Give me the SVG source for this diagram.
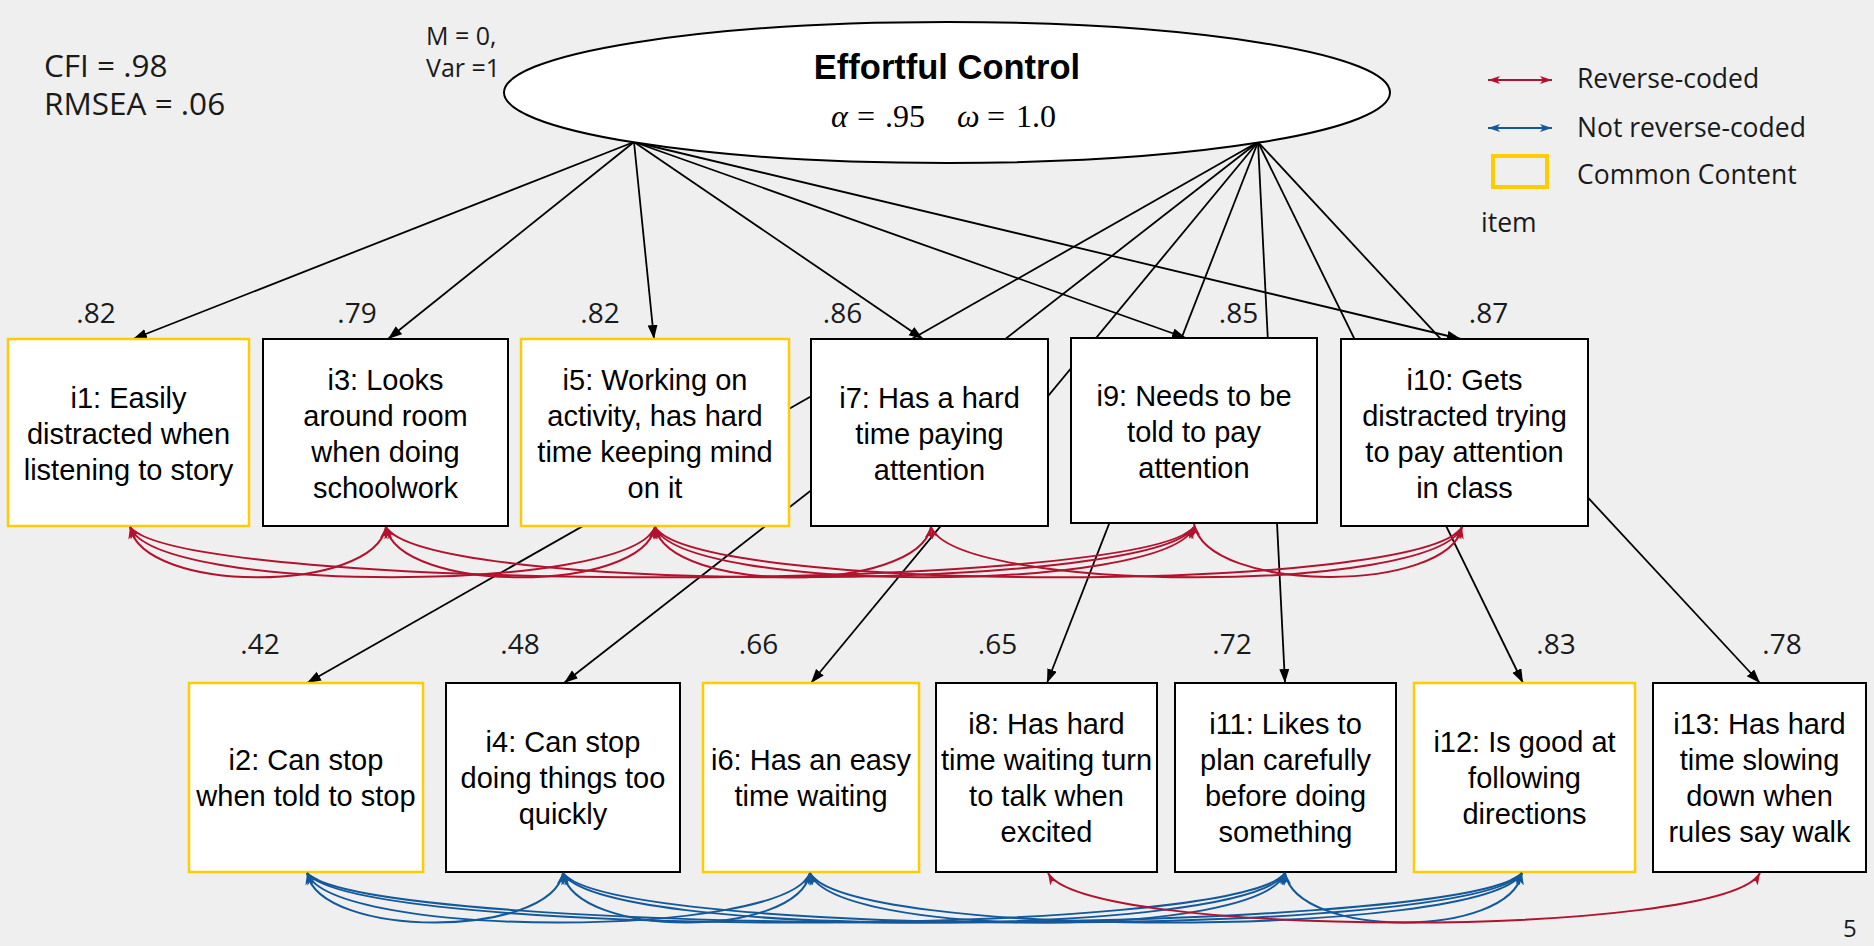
<svg xmlns="http://www.w3.org/2000/svg" width="1874" height="946" viewBox="0 0 1874 946">
<defs>
<style>
.bg{fill:#efefef}
.box{fill:#fff;stroke:#000;stroke-width:2}
.box.cc{stroke:#ffcc00;stroke-width:2.5}
.bt{font-family:"Liberation Sans",Arial,sans-serif;font-size:29px;fill:#000;text-anchor:middle}
.lab{font-family:"Open Sans","Noto Sans",sans-serif;font-size:28px;fill:#1a1a1a;text-anchor:middle}
.os{font-family:"Open Sans","Noto Sans",sans-serif;fill:#1a1a1a}
.ld{stroke:#000;stroke-width:1.8;fill:none;marker-end:url(#ah)}
.rc{stroke:#b3122e;stroke-width:2;fill:none;marker-start:url(#ar);marker-end:url(#ar)}
.nc{stroke:#13589a;stroke-width:2;fill:none;marker-start:url(#ab);marker-end:url(#ab)}
</style>
<marker id="ah" markerUnits="userSpaceOnUse" markerWidth="16" markerHeight="12" refX="14" refY="5" orient="auto"><path d="M0,0 L14,5 L0,10 z" fill="#000"/></marker>
<marker id="ar" markerUnits="userSpaceOnUse" markerWidth="14" markerHeight="10" refX="12" refY="4" orient="auto-start-reverse"><path d="M0,0 L12,4 L0,8 L3,4 z" fill="#b3122e"/></marker>
<marker id="ab" markerUnits="userSpaceOnUse" markerWidth="14" markerHeight="10" refX="12" refY="4" orient="auto-start-reverse"><path d="M0,0 L12,4 L0,8 L3,4 z" fill="#13589a"/></marker>
</defs>
<rect class="bg" x="0" y="0" width="1874" height="946"/>

<g id="loadings">
<line class="ld" x1="634" y1="142" x2="133" y2="339"/>
<line class="ld" x1="634" y1="142" x2="388" y2="339"/>
<line class="ld" x1="634" y1="142" x2="654" y2="339"/>
<line class="ld" x1="634" y1="142" x2="923" y2="339"/>
<line class="ld" x1="634" y1="142" x2="1186" y2="338"/>
<line class="ld" x1="634" y1="142" x2="1461" y2="339"/>
<line class="ld" x1="1258" y1="142" x2="307" y2="683"/>
<line class="ld" x1="1258" y1="142" x2="564" y2="683"/>
<line class="ld" x1="1258" y1="142" x2="811" y2="683"/>
<line class="ld" x1="1258" y1="142" x2="1047" y2="683"/>
<line class="ld" x1="1258" y1="142" x2="1285" y2="683"/>
<line class="ld" x1="1258" y1="142" x2="1523" y2="683"/>
<line class="ld" x1="1258" y1="142" x2="1760" y2="683"/>
</g>

<g id="effortful-control">
<ellipse cx="947" cy="92.5" rx="443" ry="70.5" fill="#fff" stroke="#000" stroke-width="2"/>
<text x="947" y="79" text-anchor="middle" font-family="'Liberation Sans',Arial,sans-serif" font-weight="bold" font-size="34.5">Effortful Control</text>
<text y="127" font-family="'Liberation Serif','Times New Roman',serif" font-size="32" fill="#000"><tspan x="831" font-style="italic">α</tspan><tspan x="857">=</tspan><tspan x="885">.95</tspan><tspan x="957" font-style="italic">ω</tspan><tspan x="987">=</tspan><tspan x="1016">1.0</tspan></text>
</g>

<g id="i1"><rect class="box cc" x="8" y="339" width="241" height="187"/><text class="bt"><tspan x="128.5" y="407.5">i1: Easily</tspan><tspan x="128.5" y="443.5">distracted when</tspan><tspan x="128.5" y="479.5">listening to story</tspan></text></g>
<g id="i3"><rect class="box" x="263" y="339" width="245" height="187"/><text class="bt"><tspan x="385.5" y="389.5">i3: Looks</tspan><tspan x="385.5" y="425.5">around room</tspan><tspan x="385.5" y="461.5">when doing</tspan><tspan x="385.5" y="497.5">schoolwork</tspan></text></g>
<g id="i5"><rect class="box cc" x="521" y="339" width="268" height="187"/><text class="bt"><tspan x="655" y="389.5">i5: Working on</tspan><tspan x="655" y="425.5">activity, has hard</tspan><tspan x="655" y="461.5">time keeping mind</tspan><tspan x="655" y="497.5">on it</tspan></text></g>
<g id="i7"><rect class="box" x="811" y="339" width="237" height="187"/><text class="bt"><tspan x="929.5" y="407.5">i7: Has a hard</tspan><tspan x="929.5" y="443.5">time paying</tspan><tspan x="929.5" y="479.5">attention</tspan></text></g>
<g id="i9"><rect class="box" x="1071" y="338" width="246" height="185"/><text class="bt"><tspan x="1194" y="405.5">i9: Needs to be</tspan><tspan x="1194" y="441.5">told to pay</tspan><tspan x="1194" y="477.5">attention</tspan></text></g>
<g id="i10"><rect class="box" x="1341" y="339" width="247" height="187"/><text class="bt"><tspan x="1464.5" y="389.5">i10: Gets</tspan><tspan x="1464.5" y="425.5">distracted trying</tspan><tspan x="1464.5" y="461.5">to pay attention</tspan><tspan x="1464.5" y="497.5">in class</tspan></text></g>

<g id="i2"><rect class="box cc" x="189" y="683" width="234" height="189"/><text class="bt"><tspan x="306" y="770">i2: Can stop</tspan><tspan x="306" y="806">when told to stop</tspan></text></g>
<g id="i4"><rect class="box" x="446" y="683" width="234" height="189"/><text class="bt"><tspan x="563" y="752">i4: Can stop</tspan><tspan x="563" y="788">doing things too</tspan><tspan x="563" y="824">quickly</tspan></text></g>
<g id="i6"><rect class="box cc" x="703" y="683" width="216" height="189"/><text class="bt"><tspan x="811" y="770">i6: Has an easy</tspan><tspan x="811" y="806">time waiting</tspan></text></g>
<g id="i8"><rect class="box" x="936" y="683" width="221" height="189"/><text class="bt"><tspan x="1046.5" y="734">i8: Has hard</tspan><tspan x="1046.5" y="770">time waiting turn</tspan><tspan x="1046.5" y="806">to talk when</tspan><tspan x="1046.5" y="842">excited</tspan></text></g>
<g id="i11"><rect class="box" x="1175" y="683" width="221" height="189"/><text class="bt"><tspan x="1285.5" y="734">i11: Likes to</tspan><tspan x="1285.5" y="770">plan carefully</tspan><tspan x="1285.5" y="806">before doing</tspan><tspan x="1285.5" y="842">something</tspan></text></g>
<g id="i12"><rect class="box cc" x="1414" y="683" width="221" height="189"/><text class="bt"><tspan x="1524.5" y="752">i12: Is good at</tspan><tspan x="1524.5" y="788">following</tspan><tspan x="1524.5" y="824">directions</tspan></text></g>
<g id="i13"><rect class="box" x="1653" y="683" width="213" height="189"/><text class="bt"><tspan x="1759.5" y="734">i13: Has hard</tspan><tspan x="1759.5" y="770">time slowing</tspan><tspan x="1759.5" y="806">down when</tspan><tspan x="1759.5" y="842">rules say walk</tspan></text></g>

<g id="covariances">
<path class="rc" d="M130,527 C143,594 373,594 386,527"/>
<path class="rc" d="M130,527 C156,594 629,594 655,527"/>
<path class="rc" d="M130,527 C183,594 1141,594 1194,527"/>
<path class="rc" d="M386,527 C399,594 642,594 655,527"/>
<path class="rc" d="M386,527 C426,594 1154,594 1194,527"/>
<path class="rc" d="M655,527 C669,594 917,594 931,527"/>
<path class="rc" d="M655,527 C682,594 1167,594 1194,527"/>
<path class="rc" d="M655,527 C695,594 1422,594 1462,527"/>
<path class="rc" d="M931,527 C958,594 1435,594 1462,527"/>
<path class="rc" d="M1194,524 C1207,594 1449,594 1462,527"/>
<path class="nc" d="M307,873 C320,939 550,939 563,873"/>
<path class="nc" d="M307,873 C332,939 785,939 810,873"/>
<path class="nc" d="M307,873 C356,939 1236,939 1285,873"/>
<path class="nc" d="M307,873 C368,939 1461,939 1522,873"/>
<path class="nc" d="M563,873 C575,939 798,939 810,873"/>
<path class="nc" d="M563,873 C599,939 1249,939 1285,873"/>
<path class="nc" d="M563,873 C611,939 1474,939 1522,873"/>
<path class="nc" d="M810,873 C834,939 1261,939 1285,873"/>
<path class="nc" d="M810,873 C846,939 1486,939 1522,873"/>
<path class="nc" d="M1285,873 C1297,939 1510,939 1522,873"/>
<path class="rc" d="M1048,873 C1084,939 1724,939 1760,873"/>
</g>

<g id="loading-labels">
<text class="lab" x="96" y="323">.82</text>
<text class="lab" x="357" y="323">.79</text>
<text class="lab" x="600" y="323">.82</text>
<text class="lab" x="842.5" y="323">.86</text>
<text class="lab" x="1238.5" y="323">.85</text>
<text class="lab" x="1488.5" y="323">.87</text>
<text class="lab" x="260" y="654">.42</text>
<text class="lab" x="520" y="654">.48</text>
<text class="lab" x="758.5" y="654">.66</text>
<text class="lab" x="997.5" y="654">.65</text>
<text class="lab" x="1232" y="654">.72</text>
<text class="lab" x="1556" y="654">.83</text>
<text class="lab" x="1782" y="654">.78</text>
</g>

<g id="fit">
<text class="os" x="44" y="77" font-size="31.5">CFI = .98</text>
<text class="os" x="44" y="115" font-size="31.5">RMSEA = .06</text>
<text class="os" x="426" y="45" font-size="25">M = 0,</text>
<text class="os" x="426" y="77" font-size="25">Var =1</text>
</g>

<g id="legend">
<line x1="1488" y1="80" x2="1552" y2="80" stroke="#b3122e" stroke-width="2" marker-start="url(#ar)" marker-end="url(#ar)"/>
<line x1="1488" y1="128" x2="1552" y2="128" stroke="#13589a" stroke-width="2" marker-start="url(#ab)" marker-end="url(#ab)"/>
<rect x="1493" y="156" width="54" height="31" fill="none" stroke="#ffcc00" stroke-width="4"/>
<text class="os" x="1577" y="88" font-size="26.5">Reverse-coded</text>
<text class="os" x="1577" y="137" font-size="26.5">Not reverse-coded</text>
<text class="os" x="1577" y="184" font-size="26.5">Common Content</text>
<text class="os" x="1481" y="232" font-size="26.5">item</text>
</g>

<text class="os" x="1843" y="937" font-size="24">5</text>
</svg>
